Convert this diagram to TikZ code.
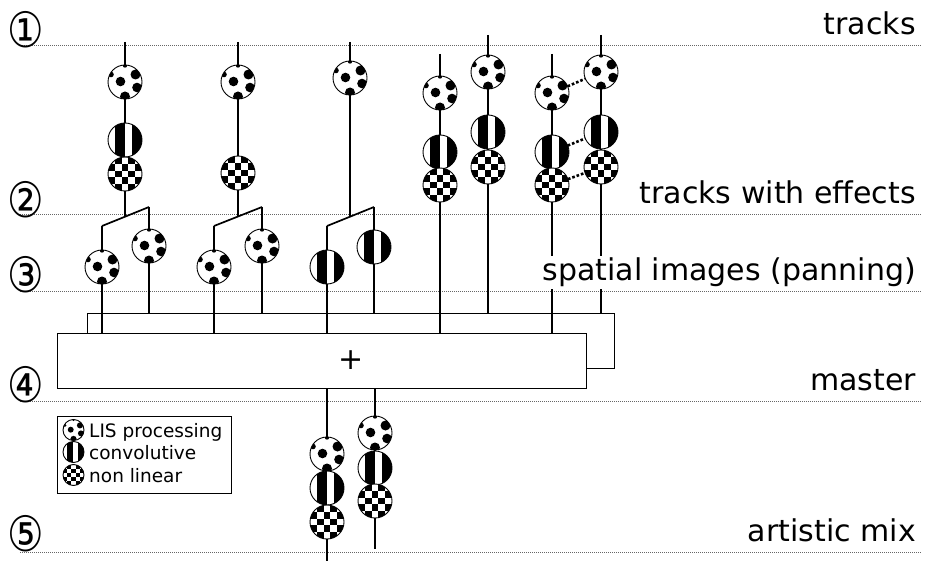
\documentclass[tikz,border=0pt]{standalone}
\usepackage{graphicx}
\usepackage{fontspec}
\setmainfont{DejaVu Sans}
\newcommand\patlis{%
  \fill (-4.5,-0.5) circle[radius=4.8];
  \fill (10.5,-7.5) circle[radius=5];
  \fill (12,5.5) circle[radius=4.8];
  \fill (0,14.5) circle[radius=5];
  \fill (-14,-7.5) circle[radius=2.8];
  \fill (0,-16.5) circle[radius=2.2];}
\newcommand\patconv{%
  \fill (-10,-17) rectangle (-0.5,17);
  \fill (6.5,-17) rectangle (17,17);}
\newcommand\patchk{%
  \foreach \c/\r in {1/0,3/0,0/1,2/1,4/1,1/2,3/2,0/3,2/3,4/3,1/4,3/4}
    \fill ({-17+6.8*\c},{-17+6.8*\r}) rectangle ++(6.8,6.8);}
\newcommand\mksym[5]{% type, name, x, y, diameter
  \node[sym=#5] (#2) at (#3,#4) {};
  \begin{scope}[shift={(#3,#4)}, scale=#5/34]
    \clip (0,0) circle[radius=17];
    \csname pat#1\endcsname
  \end{scope}
  \draw[line width=0.9pt] (#2.center) circle[radius=#5/2];
}
\begin{document}
\begin{tikzpicture}[x=1pt,y=-1pt,
  hline/.style={line width=0.9pt, black!60, dash pattern=on 1pt off 1pt},
  trk/.style={line width=1.7pt},
  sym/.style={circle, fill=white, minimum size=#1, inner sep=0pt, outer sep=0pt},
  lab/.style={anchor=base east, inner sep=2pt, font=\fontsize{30}{36}\selectfont},
  num/.style={inner sep=0pt, font=\fontsize{30}{36}\selectfont},
  box/.style={draw, line width=1pt, fill=white, inner sep=0pt, outer sep=0pt},
  dotconn/.style={line width=2.6pt, dash pattern=on 2.6pt off 2pt},
  leg/.style={anchor=base west, inner sep=0pt, font=\fontsize{18.5}{22}\selectfont}
]
\useasboundingbox (0,0) rectangle (925,561);

% horizontal level lines
\draw[hline] (20,45) -- (922,45);
\draw[hline] (20,214) -- (922,214);
\draw[hline] (20,291) -- (922,291);
\draw[hline] (20,401) -- (922,401);
\draw[hline] (20,552) -- (922,552);

% level numbers
\node[num] (n1) at (25.5,30) {\scalebox{1.36}[1.63]{①}};
\node[num] (n2) at (25.5,200) {\scalebox{1.36}[1.63]{②}};
\node[num] (n3) at (25.5,275) {\scalebox{1.36}[1.63]{③}};
\node[num] (n4) at (25.5,385) {\scalebox{1.36}[1.63]{④}};
\node[num] (n5) at (25.5,534) {\scalebox{1.36}[1.63]{⑤}};

% boxes
\node[box, minimum width=527pt, minimum height=55pt] (back) at (350.5,340.5) {};
\node[box, minimum width=529pt, minimum height=55pt] (master) at (321.5,360.5) {};
\node[inner sep=0pt, font=\fontsize{30}{36}\selectfont] (plus) at (351,360) {+};

% coordinates
\coordinate (t1) at (125,42);  \coordinate (j1) at (125,216.5);
\coordinate (f1l) at (102,226); \coordinate (f1r) at (149,207);
\coordinate (t2) at (238,42);  \coordinate (j2) at (238,216.5);
\coordinate (f2l) at (214,226); \coordinate (f2r) at (262,207);
\coordinate (t3) at (350,42);  \coordinate (j3) at (350,216.5);
\coordinate (f3l) at (327,226); \coordinate (f3r) at (374,207);
\coordinate (t4) at (440,54);
\coordinate (t5) at (488,35);
\coordinate (t6) at (552,54);
\coordinate (t7) at (601,35);
\coordinate (o1) at (327,561);
\coordinate (o2) at (375,549);

% track lines
\draw[trk] (t1) -- (j1);
\draw[trk] (t2) -- (j2);
\draw[trk] (t3) -- (j3);
\draw[trk] (f1l) -- (f1r);
\draw[trk] (f2l) -- (f2r);
\draw[trk] (f3l) -- (f3r);
\draw[trk] (f1l) -- (f1l |- master.north);
\draw[trk] (f1r) -- (f1r |- back.north);
\draw[trk] (f2l) -- (f2l |- master.north);
\draw[trk] (f2r) -- (f2r |- back.north);
\draw[trk] (f3l) -- (f3l |- master.north);
\draw[trk] (f3r) -- (f3r |- back.north);
\draw[trk] (t4) -- (t4 |- master.north);
\draw[trk] (t5) -- (t5 |- back.north);
\draw[trk] (t6) -- (t6 |- master.north);
\draw[trk] (t7) -- (t7 |- back.north);
\draw[trk] (o1 |- master.south) -- (o1);
\draw[trk] (o2 |- master.south) -- (o2);

% track 1
\mksym{lis}{a1}{125}{82}{34}
\mksym{conv}{b1}{125}{140}{34}
\mksym{chk}{c1}{125}{174}{34}
\mksym{lis}{p1l}{102}{267}{34}
\mksym{lis}{p1r}{149}{246}{34}
% track 2
\mksym{lis}{a2}{238}{82}{34}
\mksym{chk}{c2}{238}{173}{34}
\mksym{lis}{p2l}{214}{267}{34}
\mksym{lis}{p2r}{262}{246}{34}
% track 3
\mksym{lis}{a3}{350}{78}{34}
\mksym{conv}{p3l}{327}{267}{34}
\mksym{conv}{p3r}{374}{247}{34}
% track 4
\mksym{lis}{a4}{440}{93}{34}
\mksym{conv}{b4}{440}{152}{34}
\mksym{chk}{c4}{440}{185}{34}
% track 5
\mksym{lis}{a5}{488}{72}{34}
\mksym{conv}{b5}{488}{132}{34}
\mksym{chk}{c5}{488}{167}{34}
% track 6
\mksym{lis}{a6}{552}{93}{34}
\mksym{conv}{b6}{552}{152}{34}
\mksym{chk}{c6}{552}{185}{34}
% track 7
\mksym{lis}{a7}{601}{72}{34}
\mksym{conv}{b7}{601}{132}{34}
\mksym{chk}{c7}{601}{167}{34}
% links between 6 and 7
\draw[dotconn] (a6) -- (a7);
\draw[dotconn] (b6) -- (b7);
\draw[dotconn] (c6) -- (c7);
% outputs
\mksym{lis}{oa1}{327}{454}{34}
\mksym{conv}{ob1}{327}{488}{34}
\mksym{chk}{oc1}{327}{522}{34}
\mksym{lis}{oa2}{375}{433}{34}
\mksym{conv}{ob2}{375}{468}{34}
\mksym{chk}{oc2}{375}{501}{34}

% labels
\node[lab] (l1) at (918,34.5) {tracks};
\node[lab] (l2) at (918,203.5) {tracks with effects};
\node[lab, fill=white] (l3) at (918,280.5) {spatial images (panning)};
\node[lab] (l4) at (918,390.5) {master};
\node[lab] (l5) at (918,541.5) {artistic mix};

% legend
\node[draw, line width=1pt, minimum width=174pt, minimum height=77pt, inner sep=0pt] (legend) at (144,454.5) {};
\mksym{lis}{k1}{73.5}{430}{21}
\mksym{conv}{k2}{73.5}{452}{21}
\mksym{chk}{k3}{73.5}{475}{21}
\node[leg] (kt1) at (89,437) {LIS processing};
\node[leg] (kt2) at (89,459) {convolutive};
\node[leg] (kt3) at (89,482) {non linear};
\end{tikzpicture}
\end{document}
